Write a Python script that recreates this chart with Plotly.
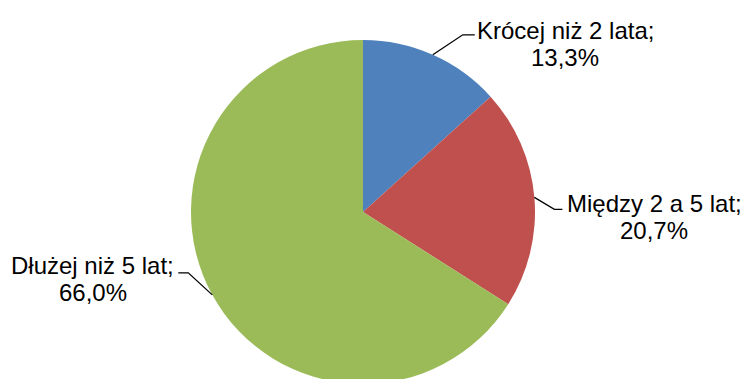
import math
import plotly.graph_objects as go

# Share of respondents by duration
categories = ["Krócej niż 2 lata", "Między 2 a 5 lat", "Dłużej niż 5 lat"]
shares = [13.3, 20.7, 66.0]
colors = ["#4F81BD", "#C0504D", "#9BBB59"]

W, H = 743, 424          # canvas is taller than the viewport so the pie runs off the bottom
CX, CY, R = 363, 212, 172  # pie centre and radius in pixels

FONT = "Liberation Sans, Arial, sans-serif"
FS = 24

# label layout: elbow offset from the slice edge, horizontal run, text centre and line centres
label_layout = [
    dict(elbow=(30, -20), run=12, tx=565, y1=30, y2=57),
    dict(elbow=(20, 12), run=8, tx=654, y1=203, y2=230),
    dict(elbow=(-24, -22), run=-10, tx=93, y1=265, y2=292),
]


def px(x):
    return x / W


def py(y):
    return 1 - y / H


fig = go.Figure(
    go.Pie(
        labels=categories,
        values=shares,
        sort=False,
        direction="clockwise",
        rotation=0,
        marker=dict(colors=colors, line=dict(width=0)),
        textinfo="none",
        hoverinfo="label+percent",
        showlegend=False,
        domain=dict(x=[px(CX - R), px(CX + R)], y=[py(CY + R), py(CY - R)]),
    )
)

total = sum(shares)
cum = 0.0
shapes, annotations = [], []
for cat, val, lay in zip(categories, shares, label_layout):
    mid = (cum + val / 2) / total * 2 * math.pi
    cum += val
    ex = CX + R * math.sin(mid)
    ey = CY - R * math.cos(mid)
    bx, by = ex + lay["elbow"][0], ey + lay["elbow"][1]
    hx = bx + lay["run"]
    shapes.append(dict(
        type="path", xref="paper", yref="paper",
        path=f"M {px(ex)},{py(ey)} L {px(bx)},{py(by)} L {px(hx)},{py(by)}",
        line=dict(color="black", width=1.3),
    ))
    pct = f"{val:.1f}".replace(".", ",") + "%"
    for txt, yy in ((cat + ";", lay["y1"]), (pct, lay["y2"])):
        annotations.append(dict(
            text=txt, x=px(lay["tx"]), y=py(yy), xref="paper", yref="paper",
            xanchor="center", yanchor="middle", showarrow=False,
            font=dict(family=FONT, size=FS, color="black"),
        ))

fig.update_layout(
    width=W, height=H,
    margin=dict(l=0, r=0, t=0, b=0),
    paper_bgcolor="white",
    plot_bgcolor="white",
    shapes=shapes,
    annotations=annotations,
)

fig.write_html(
    "out.html",
    post_script="document.body.style.overflow='hidden';document.documentElement.style.overflow='hidden';",
)
